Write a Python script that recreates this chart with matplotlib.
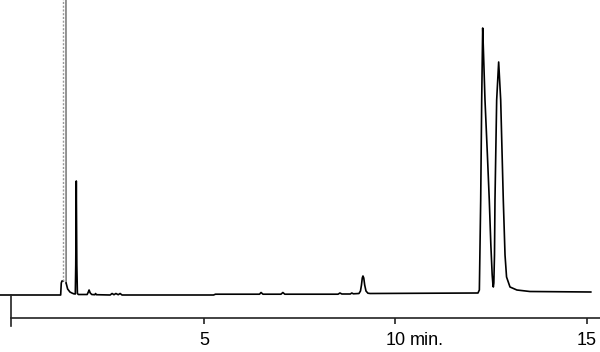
import matplotlib
matplotlib.use("Agg")
import matplotlib.pyplot as plt

plt.rcParams['font.family'] = ['Liberation Sans', 'DejaVu Sans']

# ---- data (time in min, detector signal in arbitrary units) ----
# trace before the solvent front
pre_time = [-0.33, 1.258, 1.274, 1.292, 1.326]
pre_signal = [0, 0, 12, 14, 14]

# solvent front (off scale), rising and falling edges
solvent_rise_time = [1.326, 1.326]
solvent_rise_signal = [14, 400]
solvent_fall_time = [1.395, 1.400]
solvent_fall_signal = [400, 12]

# trace after the solvent front
trace_time = [1.400, 1.44, 1.50, 1.55, 1.60, 1.640, 1.652, 1.666, 1.680, 1.695,
              1.72, 1.95, 1.98, 2.00, 2.03, 2.07, 2.15, 2.17, 2.19, 2.55,
              2.60, 2.65, 2.70, 2.76, 2.81, 2.86, 5.25, 5.30, 6.45, 6.49,
              6.54, 7.01, 7.06, 7.11, 8.50, 8.55, 8.60, 8.82, 8.86, 8.90,
              9.047, 9.086, 9.112, 9.133, 9.151, 9.172, 9.196, 9.230, 9.28, 9.34,
              12.154, 12.19, 12.225, 12.251, 12.277, 12.30, 12.337, 12.40, 12.449, 12.49,
              12.525, 12.545, 12.555, 12.568, 12.585, 12.598, 12.642, 12.694, 12.747, 12.815,
              12.86, 12.90, 12.99, 13.17, 13.51, 15.10]
trace_signal = [12, 6, 3, 2, 1.2, 1, 30, 114, 30, 1.5,
                0.5, 0.5, 3, 5, 2, 0.5, 0.3, 1.5, 0.3, 0,
                1.5, 0.3, 1.5, 0.3, 1.5, 0, 0, 0.8, 0.8, 2.5,
                0.8, 0.8, 2.5, 0.8, 0.8, 2, 1, 1, 2, 1.2,
                1.5, 4, 10, 17, 19, 17, 10, 4, 1.8, 1.5,
                2, 5, 95, 195, 267, 240, 195, 140, 95, 50,
                20, 10, 8, 12, 40, 95, 195, 233, 195, 95,
                40, 18, 8, 5, 3.5, 3]

tick_values = [5, 10, 15]
tick_labels = ["5", "10", "15"]
unit_label = "min."

# ---- figure ----
fig = plt.figure(figsize=(6.0, 3.52), dpi=100)
ax = fig.add_axes([0, 0, 1, 1])
ax.set_xlim(-0.326, 15.34)
ax.set_ylim(-57, 295)

ax.plot(pre_time, pre_signal, color='black', lw=1.2, solid_joinstyle='round')
ax.plot(solvent_rise_time, solvent_rise_signal, color='#9a9a9a', lw=1.0, ls=(0, (1.5, 1.2)))
ax.plot(solvent_fall_time, solvent_fall_signal, color='#666666', lw=1.0)
ax.plot(trace_time, trace_signal, color='black', lw=1.2, solid_joinstyle='round')

# x axis
for s in ['top', 'right', 'left']:
    ax.spines[s].set_visible(False)
ax.spines['bottom'].set_position(('data', -23))
ax.spines['bottom'].set_bounds(-0.04, 15.34)
ax.spines['bottom'].set_linewidth(1.2)
ax.spines['bottom'].set_color('#222222')
ax.set_xticks(tick_values)
ax.set_xticklabels(tick_labels)
ax.tick_params(axis='x', direction='out', length=4.3, width=1.2, color='#222222',
               pad=5.5, labelsize=13)
ax.set_yticks([])
ax.text(10.38, -23 - 4.3 * 100 / 72 - 5.5 * 100 / 72, unit_label,
        fontsize=13, ha='left', va='top')

# origin stub
ax.plot([-0.04, -0.04], [0, -31], color='#222222', lw=1.2)

fig.savefig("out.png", dpi=100)
